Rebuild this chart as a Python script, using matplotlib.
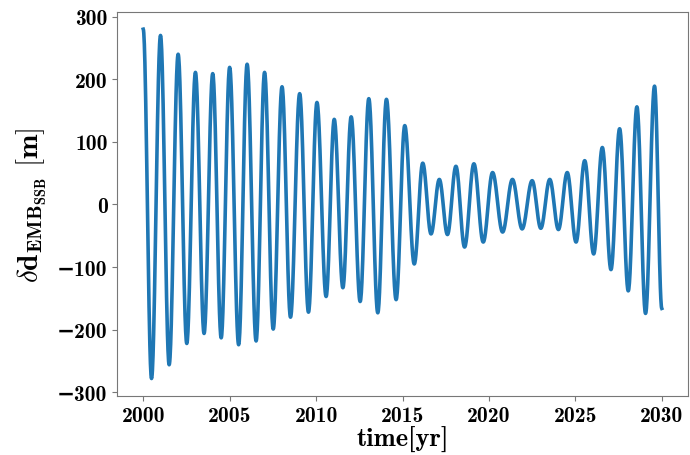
import numpy as np
import matplotlib
matplotlib.use("Agg")
import matplotlib.pyplot as plt

plt.rcParams['mathtext.fontset'] = 'cm'
plt.rcParams['font.family'] = ['cmb10', 'DejaVu Serif']
plt.rcParams['font.weight'] = 'bold'

# extrema (year, metres): start, then alternating trough/peak
ext_t = [2000.00, 2000.48, 2001.00, 2001.50, 2002.02, 2002.52, 2003.02, 2003.52,
         2004.02, 2004.51, 2005.00, 2005.52, 2006.01, 2006.53, 2007.02, 2007.52,
         2008.03, 2008.52, 2009.05, 2009.56, 2010.05, 2010.58, 2011.05, 2011.55,
         2012.03, 2012.55, 2013.05, 2013.57, 2014.07, 2014.63, 2015.13, 2015.68,
         2016.17, 2016.65, 2017.13, 2017.60, 2018.09, 2018.59, 2019.13, 2019.67,
         2020.21, 2020.79, 2021.36, 2021.92, 2022.50, 2023.00, 2023.52, 2024.02,
         2024.53, 2025.04, 2025.54, 2026.06, 2026.56, 2027.06, 2027.56, 2028.06,
         2028.56, 2029.06, 2029.58, 2030.00]
ext_v = [280, -278, 270, -256, 240, -222, 211, -206,
         209, -213, 219, -224, 224, -218, 211, -199,
         188, -180, 177, -172, 163, -147, 136, -133,
         140, -155, 169, -173, 168, -152, 126, -95,
         66, -47, 40, -48, 61, -68, 65, -60,
         51, -44, 40, -39, 38, -38, 40, -40,
         51, -60, 70, -79, 91, -104, 121, -138,
         156, -174, 189, -166]

xticks = [2000, 2005, 2010, 2015, 2020, 2025, 2030]
yticks = [-300, -200, -100, 0, 100, 200, 300]

# smooth half-cosine between consecutive extrema
tt, vv = [], []
for i in range(len(ext_t) - 1):
    s = np.linspace(0, 1, 30, endpoint=False)
    tt.extend(ext_t[i] + (ext_t[i + 1] - ext_t[i]) * s)
    vv.extend(ext_v[i] + (ext_v[i + 1] - ext_v[i]) * (1 - np.cos(np.pi * s)) / 2)
tt.append(ext_t[-1])
vv.append(ext_v[-1])

fig = plt.figure(figsize=(6.9, 4.56), dpi=100)
ax = fig.add_axes([0.170, 0.1294, 0.8267, 0.8427])
ax.plot(tt, vv, color='#1f77b4', lw=2.6)

ax.set_xticks(xticks)
ax.set_yticks(yticks)
ax.set_yticklabels(['\u2212%d' % -v if v < 0 else '%d' % v for v in yticks])
ax.tick_params(labelsize=15.5, color='#777777')
for sp in ax.spines.values():
    sp.set_color('#777777')

ax.set_xlabel('time[yr]', fontsize=19, labelpad=1)
ax.set_ylabel(r'$\delta\mathbf{d}_{\mathbf{EMB}_{\mathbf{SSB}}}\ [\mathbf{m}]$', fontsize=21, labelpad=6)

fig.savefig('out.png', dpi=100)
